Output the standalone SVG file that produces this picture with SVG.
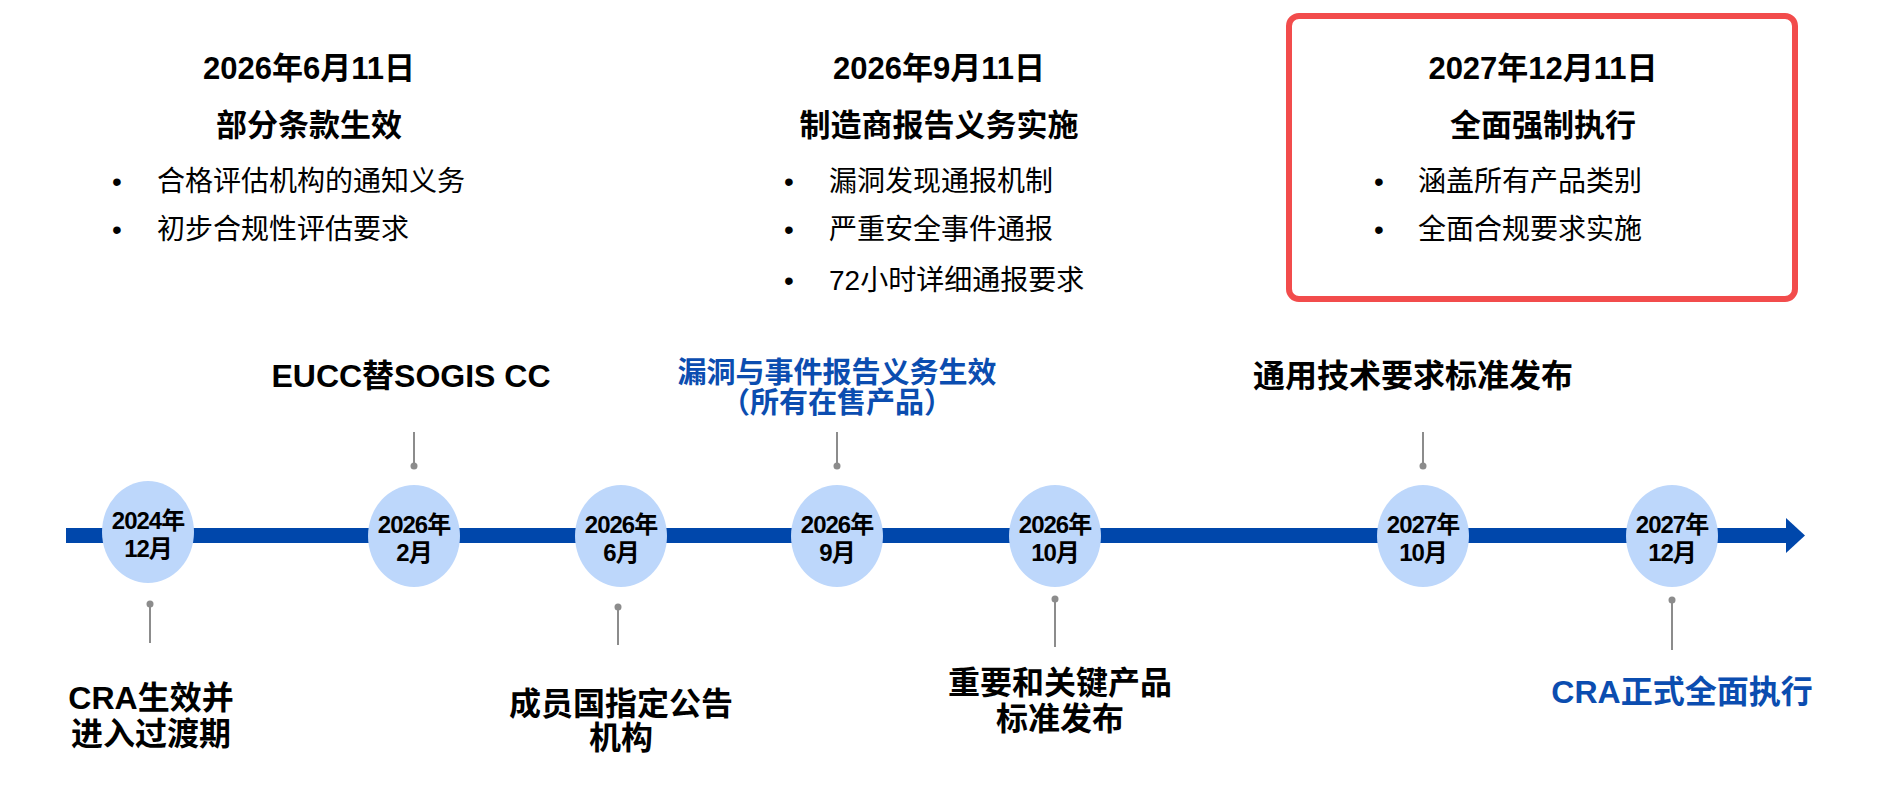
<svg xmlns="http://www.w3.org/2000/svg" width="1897" height="788" viewBox="0 0 1897 788">
<style>
text{font-family:"Liberation Sans","Noto Sans CJK SC",sans-serif;fill:#000}
.t{font-size:31px;font-weight:bold;text-anchor:middle}
.b{font-size:28px}
.c{font-size:24px;font-weight:bold;text-anchor:middle;letter-spacing:-1px}
.l{font-size:32px;font-weight:bold;text-anchor:middle}
.blue{fill:#0B4DB0}
.node ellipse{fill:#BDD7FB}
.stem{stroke:#8C8C8C;stroke-width:2}
.dot{fill:#8C8C8C}
</style>
<rect width="1897" height="788" fill="#fff"/>
<g id="phase1">
<text class="t" x="309" y="79">2026年6月11日</text>
<text class="t" x="309" y="136">部分条款生效</text>
<text class="b" x="112" y="191">•</text><text class="b" x="157" y="191">合格评估机构的通知义务</text>
<text class="b" x="112" y="239">•</text><text class="b" x="157" y="239">初步合规性评估要求</text>
</g>
<g id="phase2">
<text class="t" x="939" y="79">2026年9月11日</text>
<text class="t" x="939" y="136">制造商报告义务实施</text>
<text class="b" x="784" y="191">•</text><text class="b" x="829" y="191">漏洞发现通报机制</text>
<text class="b" x="784" y="239">•</text><text class="b" x="829" y="239">严重安全事件通报</text>
<text class="b" x="784" y="290">•</text><text class="b" x="829" y="290">72小时详细通报要求</text>
</g>
<g id="phase3">
<rect x="1289" y="16" width="506" height="283" rx="10" fill="none" stroke="#F24C4C" stroke-width="6"/>
<text class="t" x="1543" y="79">2027年12月11日</text>
<text class="t" x="1543" y="136">全面强制执行</text>
<text class="b" x="1374" y="191">•</text><text class="b" x="1418" y="191">涵盖所有产品类别</text>
<text class="b" x="1374" y="239">•</text><text class="b" x="1418" y="239">全面合规要求实施</text>
</g>
<g id="connectors">
<rect x="66" y="528" width="1722" height="15" fill="#0047AB"/>
<polygon points="1786,518 1805,535.5 1786,553" fill="#0047AB"/>
<line class="stem" x1="414" y1="432" x2="414" y2="466"/><circle class="dot" cx="414" cy="466" r="3.5"/>
<line class="stem" x1="837" y1="432" x2="837" y2="466"/><circle class="dot" cx="837" cy="466" r="3.5"/>
<line class="stem" x1="1423" y1="432" x2="1423" y2="466"/><circle class="dot" cx="1423" cy="466" r="3.5"/>
<line class="stem" x1="150" y1="604" x2="150" y2="643"/><circle class="dot" cx="150" cy="604" r="3.5"/>
<line class="stem" x1="618" y1="607" x2="618" y2="645"/><circle class="dot" cx="618" cy="607" r="3.5"/>
<line class="stem" x1="1055" y1="599" x2="1055" y2="647"/><circle class="dot" cx="1055" cy="599" r="3.5"/>
<line class="stem" x1="1672" y1="600" x2="1672" y2="650"/><circle class="dot" cx="1672" cy="600" r="3.5"/>
</g>
<g id="n1" class="node"><ellipse cx="148" cy="532" rx="46" ry="51"/><text class="c" x="148" y="529">2024年</text><text class="c" x="148" y="557">12月</text>
<text class="l" x="151" y="709">CRA生效并</text><text class="l" x="151" y="745">进入过渡期</text></g>
<g id="n2" class="node"><ellipse cx="414" cy="536" rx="46" ry="51"/><text class="c" x="414" y="533">2026年</text><text class="c" x="414" y="561">2月</text>
<text class="l" x="411" y="387">EUCC替SOGIS CC</text></g>
<g id="n3" class="node"><ellipse cx="621" cy="536" rx="46" ry="51"/><text class="c" x="621" y="533">2026年</text><text class="c" x="621" y="561">6月</text>
<text class="l" x="621" y="715">成员国指定公告</text><text class="l" x="621" y="749">机构</text></g>
<g id="n4" class="node"><ellipse cx="837" cy="536" rx="46" ry="51"/><text class="c" x="837" y="533">2026年</text><text class="c" x="837" y="561">9月</text>
<text class="l blue" style="font-size:29px" x="837" y="383">漏洞与事件报告义务生效</text><text class="l blue" style="font-size:29px" x="837" y="413">（所有在售产品）</text></g>
<g id="n5" class="node"><ellipse cx="1055" cy="536" rx="46" ry="51"/><text class="c" x="1055" y="533">2026年</text><text class="c" x="1055" y="561">10月</text>
<text class="l" x="1060" y="694">重要和关键产品</text><text class="l" x="1060" y="730">标准发布</text></g>
<g id="n6" class="node"><ellipse cx="1423" cy="536" rx="46" ry="51"/><text class="c" x="1423" y="533">2027年</text><text class="c" x="1423" y="561">10月</text>
<text class="l" x="1413" y="387">通用技术要求标准发布</text></g>
<g id="n7" class="node"><ellipse cx="1672" cy="536" rx="46" ry="51"/><text class="c" x="1672" y="533">2027年</text><text class="c" x="1672" y="561">12月</text>
<text class="l blue" x="1682" y="703">CRA正式全面执行</text></g>
</svg>
